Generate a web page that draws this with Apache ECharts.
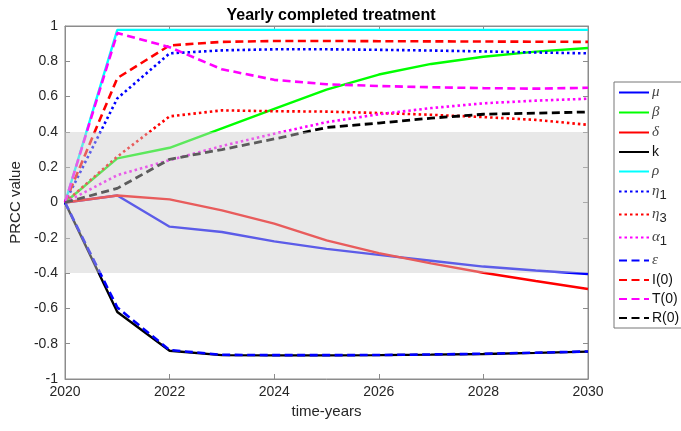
<!DOCTYPE html>
<html><head><meta charset="utf-8">
<script src="https://cdn.jsdelivr.net/npm/echarts@6/dist/echarts.min.js"></script>
<style>html,body{margin:0;padding:0;background:#fff}#c{width:681px;height:431px}</style>
</head><body><div id="c"></div>
<script>
const years = [2020,2021,2022,2023,2024,2025,2026,2027,2028,2029,2030];
const mu    = [0,0.04,-0.137,-0.167,-0.22,-0.263,-0.297,-0.33,-0.363,-0.385,-0.405];
const beta  = [0,0.25,0.31,0.42,0.53,0.64,0.725,0.785,0.826,0.855,0.875];
const delta = [0,0.04,0.018,-0.045,-0.12,-0.215,-0.287,-0.345,-0.398,-0.445,-0.49];
const kk    = [0,-0.62,-0.84,-0.865,-0.866,-0.866,-0.865,-0.862,-0.858,-0.852,-0.845];
const rho   = [0,0.978,0.978,0.978,0.978,0.978,0.978,0.978,0.978,0.978,0.978];
const eta1  = [0,0.59,0.845,0.862,0.868,0.868,0.865,0.861,0.856,0.85,0.845];
const eta3  = [0,0.26,0.488,0.522,0.517,0.515,0.507,0.497,0.484,0.468,0.44];
const alpha1= [0,0.155,0.24,0.32,0.39,0.455,0.5,0.535,0.562,0.577,0.588];
const eps   = [0,-0.595,-0.836,-0.863,-0.865,-0.865,-0.864,-0.861,-0.857,-0.851,-0.844];
const I0    = [0,0.705,0.89,0.91,0.915,0.915,0.914,0.913,0.912,0.911,0.91];
const T0    = [0,0.96,0.88,0.755,0.695,0.67,0.66,0.653,0.648,0.645,0.65];
const R0    = [0,0.08,0.245,0.3,0.36,0.425,0.45,0.478,0.5,0.506,0.513];
const yTicks = ['-1','-0.8','-0.6','-0.4','-0.2','0','0.2','0.4','0.6','0.8','1'];
const band = [-0.4, 0.4];

const DOT=[2.5,3], DASH=[8,4.5];
const defs = [
  ['μ', mu, '#0000ff','solid',2.4],
  ['β', beta, '#00ff00','solid',2.4],
  ['δ', delta, '#ff0000','solid',2.4],
  ['k', kk, '#000000','solid',2.4],
  ['ρ', rho, '#00ffff','solid',2.4],
  ['η1', eta1, '#0000ff',DOT,2.6],
  ['η3', eta3, '#ff0000',DOT,2.6],
  ['α1', alpha1, '#ff00ff',DOT,2.6],
  ['ε', eps, '#0000ff',DASH,2.6],
  ['I(0)', I0, '#ff0000',DASH,2.6],
  ['T(0)', T0, '#ff00ff',DASH,2.6],
  ['R(0)', R0, '#000000',DASH,2.8]
];
const series = defs.map(d => ({
  name: d[0], type: 'line', symbol: 'none', smooth: false,
  data: years.map((y,i)=>[y,d[1][i]]),
  lineStyle: {color: d[2], type: d[3], width: d[4]},
  itemStyle: {color: d[2]},
  z: 2
}));
series.push({
  name: 'band', type: 'line', data: [], symbol:'none',
  markArea: {silent:true, z: 5,
    itemStyle: {color: 'rgba(204,204,204,0.45)'},
    data: [[{yAxis: band[0]}, {yAxis: band[1]}]]}
});

const axisCol = '#8c8c8c';
const labelStyle = {color:'#262626', fontSize:14, fontFamily:'Liberation Sans'};
const chart = echarts.init(document.getElementById('c'), null, {renderer:'canvas'});
chart.setOption({
  animation: false,
  backgroundColor: '#fff',
  title: {text:'Yearly completed treatment', left: 326, textAlign:'center', top: 3,
    textStyle:{fontSize:16, fontWeight:'bold', color:'#000', fontFamily:'Liberation Sans'}},
  grid: {left:65, top:26, right:93, bottom:52, show:true, borderColor: axisCol, borderWidth:1},
  legend: {
    data: defs.map(d=>d[0]), orient:'vertical', left:614, top:82,
    padding:[3,4,3,4], itemWidth:30, itemHeight:14, itemGap:5,
    itemStyle: {opacity: 0},
    borderColor:'#777', borderWidth:1, backgroundColor:'#fff',
    formatter: function(n){
      const g = {'μ':1,'β':1,'δ':1,'ρ':1,'ε':1};
      if (g[n]) return '{g|'+n+'}';
      if (n==='η1') return '{g|η}{s|1}';
      if (n==='η3') return '{g|η}{s|3}';
      if (n==='α1') return '{g|α}{s|1}';
      return '{t|'+n+'}';
    },
    textStyle: {padding:[0,0,0,-2], rich: {
      g:{fontSize:15, fontStyle:'italic', fontFamily:'Liberation Serif', color:'#444'},
      s:{fontSize:13, fontFamily:'Liberation Sans', color:'#222', padding:[8,0,0,0]},
      t:{fontSize:14, fontFamily:'Liberation Sans', color:'#111'}
    }}
  },
  xAxis: [{
    type:'value', min:2020, max:2030, interval:2,
    name:'time-years', nameLocation:'middle', nameGap:25,
    nameTextStyle:{color:'#262626', fontSize:15, fontFamily:'Liberation Sans'},
    axisLine:{show:true, onZero:false, lineStyle:{color:axisCol}},
    axisTick:{show:true, inside:true, length:5, lineStyle:{color:axisCol}},
    axisLabel:{...labelStyle, margin:6, formatter: v=>String(v)},
    splitLine:{show:false}
  },{
    type:'value', min:2020, max:2030, interval:2, position:'top',
    axisLine:{show:true, onZero:false, lineStyle:{color:axisCol}},
    axisTick:{show:true, inside:true, length:5, lineStyle:{color:axisCol}},
    axisLabel:{show:false}, splitLine:{show:false}
  }],
  yAxis: [{
    type:'value', min:-1, max:1, interval:0.2,
    name:'PRCC value', nameLocation:'middle', nameGap:39,
    nameTextStyle:{color:'#262626', fontSize:15, fontFamily:'Liberation Sans'},
    axisLine:{show:true, onZero:false, lineStyle:{color:axisCol}},
    axisTick:{show:true, inside:true, length:5, lineStyle:{color:axisCol}},
    axisLabel:{...labelStyle, margin:7, formatter: v=>{ const i=Math.round((v+1)/0.2); return yTicks[i]; }},
    splitLine:{show:false}
  },{
    type:'value', min:-1, max:1, interval:0.2, position:'right',
    axisLine:{show:true, onZero:false, lineStyle:{color:axisCol}},
    axisTick:{show:true, inside:true, length:5, lineStyle:{color:axisCol}},
    axisLabel:{show:false}, splitLine:{show:false}
  }],
  series: series
});
</script></body></html>
